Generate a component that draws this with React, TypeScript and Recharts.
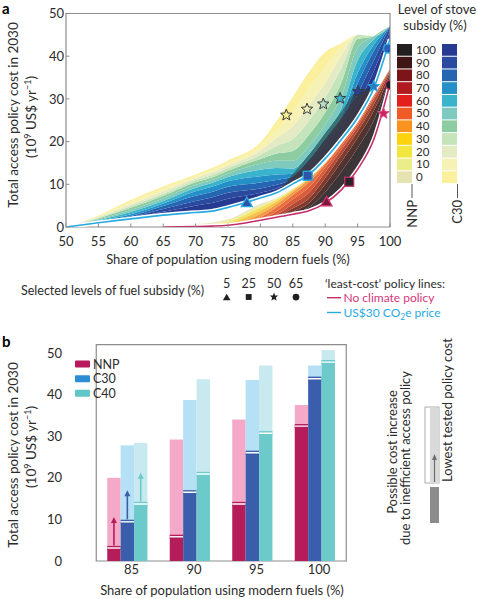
import React from "react";
import {
  ComposedChart, Area, Line, Scatter, XAxis, YAxis, ReferenceArea, BarChart, Bar,
} from "recharts";

const FONT = "Lato, 'Open Sans', sans-serif";
const INK = "#2b2b2b";
const FRAME = "#8c8c8c";
const BLUE_LINE = "#29abe2";
const PINK_LINE = "#c42e6a";

// ---- panel a: share of population (%) sampled along the fan
const shares = [50, 55, 60, 65, 70, 72.5, 75, 80, 82.5, 85, 87.5, 90, 92.5, 95, 97.5, 100];
const c30Line = [0, 1.0, 1.9, 2.8, 3.4, 3.7, 4.6, 6.8, 8.0, 10.1, 12.3, 16.0, 20.5, 25.6, 32.5, 44.0];
const nnpLine = [null, null, null, 0, 0.1, 0.2, 0.4, 1.6, 2.3, 3.0, 3.8, 5.6, 8.7, 13.5, 20.5, 33.5];

// C30 bands (thickness stacked above the C30 least-cost line), stove subsidy 100% .. 0%
const c30s100 = [0, 0.1, 0.2, 0.8, 1.6, 1.9, 2.0, 1.2, 1.0, 0.6, 0.8, 1.0, 1.2, 3.0, 4.0, 2.0];
const c30s90 = [0, 0.1, 0.2, 0.6, 1.1, 1.3, 1.4, 1.0, 0.9, 0.5, 0.8, 1.0, 1.2, 2.5, 2.5, 1.0];
const c30s80 = [0, 0.1, 0.3, 0.7, 1.2, 1.3, 1.4, 1.4, 1.1, 0.6, 0.9, 1.2, 1.4, 2.5, 2.2, 0];
const c30s70 = [0, 0.15, 0.4, 0.6, 1.1, 1.2, 1.3, 1.5, 1.3, 0.7, 1.0, 1.3, 1.5, 2.4, 1.5, 0];
const c30s60 = [0, 0.15, 0.5, 0.6, 0.8, 0.9, 1.0, 1.5, 1.5, 1.2, 1.3, 1.5, 2.0, 3.0, 1.2, 0];
const c30s50 = [0, 0.2, 0.5, 0.6, 0.7, 0.7, 0.8, 1.4, 1.7, 1.8, 1.9, 2.0, 2.8, 3.0, 0.8, 0];
const c30s40 = [0, 0.2, 0.5, 0.6, 0.6, 0.6, 0.7, 1.1, 1.7, 2.3, 2.6, 2.8, 3.2, 2.0, 0, 0];
const c30s30 = [0, 0.2, 0.4, 0.5, 0.5, 0.6, 0.6, 1.0, 1.8, 2.8, 3.3, 3.5, 3.4, 1.0, 0, 0];
const c30s20 = [0, 0.15, 0.4, 0.6, 0.5, 0.6, 0.6, 1.0, 1.9, 3.0, 3.6, 3.5, 3.0, 0, 0, 0];
const c30s10 = [0, 0.15, 0.5, 0.5, 0.4, 0.5, 0.6, 1.0, 1.9, 3.3, 3.9, 3.7, 2.0, 0, 0, 0];
const c30s0 = [0, 0.2, 0.5, 0.6, 0.4, 0.5, 0.6, 0.9, 2.0, 3.6, 3.9, 3.5, 0.8, 0, 0, 0];

// NNP bands (thickness stacked above the NNP least-cost line), 100% .. 0%
const nnps100 = [0, 0, 0, 0, 0, 0, 0, 0, 0, 0.2, 0.8, 2.6, 4.3, 5.0, 4.5, 1.5];
const nnps90 = [0, 0, 0, 0, 0, 0, 0, 0, 0, 0.4, 1.0, 1.8, 2.3, 2.4, 2.2, 0.8];
const nnps80 = [0, 0, 0, 0, 0, 0, 0, 0, 0.2, 0.8, 1.1, 1.5, 1.6, 1.5, 1.5, 0.5];
const nnps70 = [0, 0, 0, 0, 0, 0, 0, 0, 0.4, 1.0, 1.3, 1.3, 1.2, 1.1, 1.1, 0.4];
const nnps60 = [0, 0, 0, 0, 0, 0, 0, 0.2, 0.8, 1.1, 1.3, 1.1, 0.8, 0.6, 0.6, 0.3];
const nnps50 = [0, 0, 0, 0, 0, 0, 0, 0.5, 0.9, 1.0, 1.2, 0.8, 0.6, 0.4, 0.4, 0];
const nnps40 = [0, 0, 0, 0, 0, 0, 0.1, 0.8, 0.8, 0.7, 0.7, 0.3, 0, 0, 0, 0];
const nnps30 = [0, 0, 0, 0, 0, 0, 0.3, 0.8, 0.6, 0.4, 0.3, 0, 0, 0, 0, 0];
const nnps20 = [0, 0, 0, 0, 0, 0.2, 0.4, 0.7, 0.4, 0.2, 0, 0, 0, 0, 0, 0];
const nnps10 = [0, 0, 0, 0, 0.3, 0.3, 0.3, 0.4, 0.2, 0.1, 0, 0, 0, 0, 0, 0];
const nnps0 = [0, 0, 0, 0, 0.3, 0.3, 0.3, 0.4, 0.2, 0.1, 0, 0, 0, 0, 0, 0];

// high-subsidy NNP region that lies above the C30 line
const overlapDark = [0, 0, 0, 0, 0, 0, 0, 0, 0.2, 1.6, 3.4, 4.6, 5.0, 5.2, 0.3, 0];
const overlapEdge = [0, 0, 0, 0, 0, 0, 0, 0, 0.1, 0.7, 1.2, 1.4, 1.5, 1.2, 0, 0];

const stoveLevels = [100, 90, 80, 70, 60, 50, 40, 30, 20, 10, 0];
const c30Colors = ["#273a92", "#2a4a9f", "#2466b2", "#2590c8", "#3ab3cc", "#7fcabf", "#8dcca0", "#c5e4bb", "#e4eac3", "#f6f2b6", "#faf09d"];
const nnpFanColors = ["#3b3537", "#51332f", "#7f3a2e", "#b24a35", "#d95b3a", "#e96e40", "#f29a45", "#f6c24c", "#f5e25c", "#f0ee96", "#e8e6bb"];
const nnpKeyColors = ["#231f20", "#3f1515", "#7b1517", "#b01b20", "#e2211c", "#f05a24", "#f7931e", "#fdd20f", "#f2e640", "#ebee88", "#e6e3b2"];

// fuel-subsidy markers
const c30TriX = [77.9]; const c30TriY = [5.7];
const c30SqX = [87.3]; const c30SqY = [12.0];
const c30StarX = [84.0, 87.2, 89.7, 92.3, 95.1, 97.5];
const c30StarY = [26.2, 27.6, 28.8, 30.1, 31.7, 32.9];
const c30CircX = [99.7]; const c30CircY = [41.8];
const nnpTriX = [90.2]; const nnpTriY = [5.9];
const nnpSqX = [93.7]; const nnpSqY = [10.6];
const nnpStarX = [99.0]; const nnpStarY = [26.6];
const nnpCircX = [100]; const nnpCircY = [33.3];
const starFills = ["#f7ee8e", "#edf0b9", "#b5e0c9", "#3fb3c9", "#2a3f98", "#2a78c0"];

const xTicksA = [50, 55, 60, 65, 70, 75, 80, 85, 90, 95, 100];
const yTicksA = [0, 5, 10, 15, 20, 25, 30, 35, 40, 45, 50];

// ---- panel b
const cats = ["85", "90", "95", "100"];
const nnpLow = [3.0, 5.7, 13.6, 32.3];
const nnpHigh = [20.0, 29.2, 34.0, 37.5];
const c30Low = [9.3, 16.4, 25.9, 43.7];
const c30High = [27.8, 38.7, 43.5, 47.0];
const c40Low = [13.6, 20.8, 30.6, 47.7];
const c40High = [28.4, 43.7, 47.0, 50.7];
const nnpArrow = [10.6, null, null, null];
const c30Arrow = [17.0, null, null, null];
const c40Arrow = [21.2, null, null, null];
const yTicksB = [0, 5, 10, 15, 20, 25, 30, 35, 40, 45, 50];

const c30Bands = [c30s100, c30s90, c30s80, c30s70, c30s60, c30s50, c30s40, c30s30, c30s20, c30s10, c30s0];
const nnpBands = [nnps100, nnps90, nnps80, nnps70, nnps60, nnps50, nnps40, nnps30, nnps20, nnps10, nnps0];

const rowsA = shares.map((x, i) => {
  const row: any = {
    x,
    c30Base: c30Line[i],
    nnpBase: nnpLine[i] ?? 0,
    ovBase: c30Line[i],
    ovDark: overlapDark[i],
    ovEdge: overlapEdge[i],
    c30Line: c30Line[i],
    nnpLine: nnpLine[i],
  };
  stoveLevels.forEach((lv, k) => {
    row["c" + lv] = c30Bands[k][i];
    row["n" + lv] = nnpBands[k][i];
  });
  return row;
});

const pts = (xsArr: number[], ysArr: number[]) => xsArr.map((x, i) => ({ x, y: ysArr[i] }));
const c30StarRows = c30StarX.map((x, i) => ({ x, y: c30StarY[i], fill: starFills[i], edge: i === 5 ? BLUE_LINE : "#3a3a3a" }));

const rowsB = cats.map((cat, i) => ({
  cat,
  nnpLow: nnpLow[i], nnpExtra: nnpHigh[i] - nnpLow[i], nnpArrow: nnpArrow[i],
  c30Low: c30Low[i], c30Extra: c30High[i] - c30Low[i], c30Arrow: c30Arrow[i],
  c40Low: c40Low[i], c40Extra: c40High[i] - c40Low[i], c40Arrow: c40Arrow[i],
}));

function starPoints(cx: number, cy: number, R: number, r: number) {
  const p: string[] = [];
  for (let i = 0; i < 10; i++) {
    const a = -Math.PI / 2 + (i * Math.PI) / 5;
    const rad = i % 2 === 0 ? R : r;
    p.push(`${cx + rad * Math.cos(a)},${cy + rad * Math.sin(a)}`);
  }
  return p.join(" ");
}

function Mark({ kind, cx, cy, fill, stroke, s = 1 }: any) {
  if (cx == null || cy == null) return null;
  if (kind === "tri")
    return <polygon points={`${cx},${cy - 5.5 * s} ${cx - 5.5 * s},${cy + 4 * s} ${cx + 5.5 * s},${cy + 4 * s}`} fill={fill} stroke={stroke} strokeWidth={1.3} />;
  if (kind === "sq")
    return <rect x={cx - 4.5 * s} y={cy - 4.5 * s} width={9 * s} height={9 * s} fill={fill} stroke={stroke} strokeWidth={1.3} />;
  if (kind === "star")
    return <polygon points={starPoints(cx, cy, 6 * s, 2.6 * s)} fill={fill} stroke={stroke} strokeWidth={1} />;
  return <circle cx={cx} cy={cy} r={4.5 * s} fill={fill} stroke={stroke} strokeWidth={1.3} />;
}

function XTickA(props: any) {
  const { x, y, payload } = props;
  return (
    <g>
      <line x1={x} x2={x} y1={y - 9} y2={y - 12.5} stroke={FRAME} strokeWidth={1} />
      <text x={x} y={y} dy="0.75em" textAnchor="middle" fill={INK} fontSize={13} fontFamily={FONT}>{payload.value}</text>
    </g>
  );
}

function YTickA(props: any) {
  const { x, y, payload } = props;
  return (
    <g>
      <line x1={x + 2} x2={x + 5.5} y1={y} y2={y} stroke={FRAME} strokeWidth={1} />
      <text x={x} y={y} dy="0.36em" textAnchor="end" fill={INK} fontSize={13} fontFamily={FONT}>{payload.value}</text>
    </g>
  );
}

function upperShape(dark: string, light: string, arrowKey: string, lowKey: string, extraKey: string) {
  return (p: any) => {
    const { x, y, width, height, payload } = p;
    if (height == null || isNaN(height)) return null;
    const base = y + height;
    const unit = height / payload[extraKey];
    const tip = payload[arrowKey];
    const cx = x + width / 2;
    const tipY = tip != null ? base - (tip - payload[lowKey]) * unit : 0;
    return (
      <g>
        <rect x={x} y={y} width={width} height={height} fill={light} />
        {tip != null && (
          <g>
            <line x1={cx} x2={cx} y1={base - 3} y2={tipY + 5} stroke={dark} strokeWidth={1.6} />
            <polygon points={`${cx},${tipY} ${cx - 3},${tipY + 6} ${cx + 3},${tipY + 6}`} fill={dark} />
          </g>
        )}
        <rect x={x} y={base - 2.6} width={width} height={4.2} fill={dark} />
        <line x1={x} x2={x + width} y1={base - 0.5} y2={base - 0.5} stroke="#fff" strokeWidth={1.4} />
      </g>
    );
  };
}

const NNP_DARK = "#b51c5a", NNP_LIGHT = "#f4a9c8";
const C30_DARK = "#3a5eab", C30_LIGHT = "#b5e0f5";
const C40_DARK = "#6dcacb", C40_LIGHT = "#c8e9f0";

function PanelA() {
  return (
    <ComposedChart width={478} height={257} data={rowsA} margin={{ top: 13.5, right: 88, bottom: 0, left: 0 }}>
      <XAxis type="number" dataKey="x" domain={[50, 100]} ticks={xTicksA} allowDataOverflow height={30}
        axisLine={false} tickLine={false} tickSize={0} tickMargin={9} tick={<XTickA />} />
      <YAxis type="number" domain={[0, 50]} ticks={yTicksA} allowDataOverflow width={66}
        axisLine={false} tickLine={false} tickSize={0} tickMargin={2} tick={<YTickA />} />
      <Area type="monotone" dataKey="c30Base" stackId="c30" stroke="none" fill="none" isAnimationActive={false} dot={false} activeDot={false} />
      {stoveLevels.map((lv, k) => (
        <Area key={"c" + lv} type="monotone" dataKey={"c" + lv} stackId="c30" stroke="none" fill={c30Colors[k]} fillOpacity={1} isAnimationActive={false} dot={false} activeDot={false} />
      ))}
      <Area type="monotone" dataKey="nnpBase" stackId="nnp" stroke="none" fill="none" isAnimationActive={false} dot={false} activeDot={false} />
      {stoveLevels.map((lv, k) => (
        <Area key={"n" + lv} type="monotone" dataKey={"n" + lv} stackId="nnp" stroke="none" fill={nnpFanColors[k]} fillOpacity={1} isAnimationActive={false} dot={false} activeDot={false} />
      ))}
      <Area type="monotone" dataKey="ovBase" stackId="ov" stroke="none" fill="none" isAnimationActive={false} dot={false} activeDot={false} />
      <Area type="monotone" dataKey="ovDark" stackId="ov" stroke="none" fill="#3b3742" fillOpacity={0.92} isAnimationActive={false} dot={false} activeDot={false} />
      <Area type="monotone" dataKey="ovEdge" stackId="ov" stroke="none" fill="#2c3326" fillOpacity={0.5} isAnimationActive={false} dot={false} activeDot={false} />
      <Line type="monotone" dataKey="nnpLine" stroke="#fff" strokeWidth={4.5} dot={false} activeDot={false} isAnimationActive={false} />
      <Line type="monotone" dataKey="nnpLine" stroke={PINK_LINE} strokeWidth={1.6} dot={false} activeDot={false} isAnimationActive={false} />
      <Line type="monotone" dataKey="c30Line" stroke="#fff" strokeWidth={4.5} dot={false} activeDot={false} isAnimationActive={false} />
      <Line type="monotone" dataKey="c30Line" stroke={BLUE_LINE} strokeWidth={1.7} dot={false} activeDot={false} isAnimationActive={false} />
      <ReferenceArea y1={0} y2={50} fill="none" stroke={FRAME} strokeWidth={1.2} ifOverflow="visible" />
      <Scatter data={pts(c30TriX, c30TriY)} dataKey="y" isAnimationActive={false} shape={(p: any) => <Mark kind="tri" cx={p.cx} cy={p.cy} fill="#2a55a8" stroke={BLUE_LINE} />} />
      <Scatter data={pts(c30SqX, c30SqY)} dataKey="y" isAnimationActive={false} shape={(p: any) => <Mark kind="sq" cx={p.cx} cy={p.cy} fill="#2a55a8" stroke={BLUE_LINE} />} />
      <Scatter data={c30StarRows} dataKey="y" isAnimationActive={false} shape={(p: any) => <Mark kind="star" cx={p.cx} cy={p.cy} fill={p.payload.fill} stroke={p.payload.edge} />} />
      <Scatter data={pts(c30CircX, c30CircY)} dataKey="y" isAnimationActive={false} shape={(p: any) => <Mark kind="circ" cx={p.cx} cy={p.cy} fill="#2a5fb8" stroke={BLUE_LINE} />} />
      <Scatter data={pts(nnpTriX, nnpTriY)} dataKey="y" isAnimationActive={false} shape={(p: any) => <Mark kind="tri" cx={p.cx} cy={p.cy} fill="#7a1838" stroke="#d0306e" />} />
      <Scatter data={pts(nnpSqX, nnpSqY)} dataKey="y" isAnimationActive={false} shape={(p: any) => <Mark kind="sq" cx={p.cx} cy={p.cy} fill="#2a2526" stroke={PINK_LINE} />} />
      <Scatter data={pts(nnpStarX, nnpStarY)} dataKey="y" isAnimationActive={false} shape={(p: any) => <Mark kind="star" cx={p.cx} cy={p.cy} fill="#c8245e" stroke="#e05088" />} />
      <Scatter data={pts(nnpCircX, nnpCircY)} dataKey="y" isAnimationActive={false} shape={(p: any) => <Mark kind="circ" cx={p.cx} cy={p.cy} fill="#222" stroke={PINK_LINE} />} />
    </ComposedChart>
  );
}

function PanelB() {
  return (
    <BarChart width={478} height={261} data={rowsB} margin={{ top: 14.7, right: 101, bottom: 0, left: 0 }} barGap={0}>
      <XAxis dataKey="cat" padding={{ left: 32.25, right: 30.75 }} height={30} axisLine={false} tickLine={false}
        tickSize={0} tickMargin={4} tick={{ fill: INK, fontSize: 13, fontFamily: FONT, dx: 4 }} />
      <YAxis type="number" domain={[0, 52]} ticks={yTicksB} allowDataOverflow width={64} axisLine={false} tickLine={false}
        tickSize={0} tickMargin={2} tick={{ fill: INK, fontSize: 13, fontFamily: FONT }} />
      <Bar dataKey="nnpLow" stackId="n" fill={NNP_DARK} barSize={13.4} isAnimationActive={false} />
      <Bar dataKey="nnpExtra" stackId="n" barSize={13.4} isAnimationActive={false} shape={upperShape(NNP_DARK, NNP_LIGHT, "nnpArrow", "nnpLow", "nnpExtra")} />
      <Bar dataKey="c30Low" stackId="c" fill={C30_DARK} barSize={13.4} isAnimationActive={false} />
      <Bar dataKey="c30Extra" stackId="c" barSize={13.4} isAnimationActive={false} shape={upperShape(C30_DARK, C30_LIGHT, "c30Arrow", "c30Low", "c30Extra")} />
      <Bar dataKey="c40Low" stackId="d" fill={C40_DARK} barSize={13.4} isAnimationActive={false} />
      <Bar dataKey="c40Extra" stackId="d" barSize={13.4} isAnimationActive={false} shape={upperShape(C40_DARK, C40_LIGHT, "c40Arrow", "c40Low", "c40Extra")} />
      <ReferenceArea y1={0} y2={52} fill="none" stroke={FRAME} strokeWidth={1.2} ifOverflow="visible" />
    </BarChart>
  );
}

const T = (p: any) => <text fontFamily={FONT} fill={INK} fontSize={13} {...p} />;

function Overlay() {
  const sw = 12.73;
  return (
    <svg width={478} height={599} style={{ position: "absolute", left: 0, top: 0, pointerEvents: "none" }}>
      <T x={2} y={14} fontSize={15} fontWeight="bold" fill="#000">a</T>
      <T x={2} y={347} fontSize={15} fontWeight="bold" fill="#000">b</T>

      {/* panel a axis titles */}
      <T transform="translate(18,115) rotate(-90)" textAnchor="middle" fontSize={13.5}>Total access policy cost in 2030</T>
      <T transform="translate(36,117) rotate(-90)" textAnchor="middle" fontSize={13.5}>
        (10<tspan dy={-5} fontSize={9}>9</tspan><tspan dy={5}> US$ yr</tspan><tspan dy={-5} fontSize={9}>−1</tspan><tspan dy={5}>)</tspan>
      </T>
      <T x={228} y={263.5} textAnchor="middle" fontSize={13}>Share of population using modern fuels (%)</T>

      {/* stove subsidy legend */}
      <T x={437} y={14} textAnchor="middle" fontSize={13}>Level of stove</T>
      <T x={435} y={30} textAnchor="middle" fontSize={13}>subsidy (%)</T>
      {stoveLevels.map((lv, k) => (
        <g key={lv}>
          <rect x={397} y={44 + k * sw} width={15} height={sw - 1} fill={nnpKeyColors[k]} />
          <rect x={442} y={44 + k * sw} width={15} height={sw - 1} fill={c30Colors[k]} />
          <T x={416} y={44 + k * sw + 9.8} fontSize={11.5}>{lv}</T>
        </g>
      ))}
      <line x1={412} x2={412} y1={184} y2={198} stroke={INK} strokeWidth={0.8} />
      <line x1={457.5} x2={457.5} y1={184} y2={198} stroke={INK} strokeWidth={0.8} />
      <T transform="translate(416.5,200) rotate(-90)" textAnchor="end" fontSize={13}>NNP</T>
      <T transform="translate(462,200) rotate(-90)" textAnchor="end" fontSize={13}>C30</T>

      {/* fuel subsidy marker legend */}
      <T x={21} y={294.5} fontSize={12.5}>Selected levels of fuel subsidy (%)</T>
      <T x={226.7} y={287.5} textAnchor="middle" fontSize={12.5}>5</T>
      <T x={248.7} y={287.5} textAnchor="middle" fontSize={12.5}>25</T>
      <T x={274} y={287.5} textAnchor="middle" fontSize={12.5}>50</T>
      <T x={296} y={287.5} textAnchor="middle" fontSize={12.5}>65</T>
      <Mark kind="tri" cx={226.7} cy={297.5} fill="#231f20" stroke="none" s={0.7} />
      <Mark kind="sq" cx={248.7} cy={297} fill="#231f20" stroke="none" s={0.65} />
      <Mark kind="star" cx={274} cy={297} fill="#231f20" stroke="none" s={0.75} />
      <Mark kind="circ" cx={296} cy={297} fill="#231f20" stroke="none" s={0.75} />

      <T x={325} y={287.5} fontSize={12}>‘least-cost’ policy lines:</T>
      <line x1={327} x2={341} y1={297.7} y2={297.7} stroke={PINK_LINE} strokeWidth={1.4} />
      <T x={343.5} y={302} fontSize={12} fill="#d4357a">No climate policy</T>
      <line x1={327} x2={341} y1={312.5} y2={312.5} stroke={BLUE_LINE} strokeWidth={1.4} />
      <T x={343.5} y={316.5} fontSize={12} fill={BLUE_LINE}>
        US$30 CO<tspan dy={3} fontSize={8.5}>2</tspan><tspan dy={-3}>e price</tspan>
      </T>

      {/* panel b axis titles */}
      <T transform="translate(18,455) rotate(-90)" textAnchor="middle" fontSize={13.5}>Total access policy cost in 2030</T>
      <T transform="translate(36,447) rotate(-90)" textAnchor="middle" fontSize={13.5}>
        (10<tspan dy={-5} fontSize={9}>9</tspan><tspan dy={5}> US$ yr</tspan><tspan dy={-5} fontSize={9}>−1</tspan><tspan dy={5}>)</tspan>
      </T>
      <T x={222} y={594.5} textAnchor="middle" fontSize={13}>Share of population using modern fuels (%)</T>

      {/* panel b series legend */}
      <rect x={75} y={360.5} width={15} height={7} rx={1} fill="#b8185c" />
      <rect x={75} y={375.2} width={15} height={7} rx={1} fill="#2b8dd3" />
      <rect x={75} y={389.8} width={15} height={7} rx={1} fill="#5fc6c5" />
      <T x={93} y={368.5} fontSize={12.5}>NNP</T>
      <T x={93} y={383.2} fontSize={12.5}>C30</T>
      <T x={93} y={397.8} fontSize={12.5}>C40</T>

      {/* panel b key for bar parts */}
      <T transform="translate(397,452) rotate(-90)" textAnchor="middle" fontSize={13}>Possible cost increase</T>
      <T transform="translate(410,458) rotate(-90)" textAnchor="middle" fontSize={13}>due to inefficient access policy</T>
      <rect x={425} y={407} width={14} height={76} fill="#fff" stroke="#9a9a9a" strokeWidth={0.8} />
      <rect x={430} y={408} width={9} height={75} fill="#dadada" />
      <line x1={434.5} x2={434.5} y1={482} y2={459} stroke="#6d6d6d" strokeWidth={1.2} />
      <polygon points="434.5,454 432,460 437,460" fill="#6d6d6d" />
      <rect x={430} y={487} width={9} height={36} fill="#8c8c8c" />
      <T transform="translate(452,482) rotate(-90)" textAnchor="start" fontSize={13}>Lowest tested policy cost</T>
    </svg>
  );
}

export default function App() {
  return (
    <div style={{ position: "absolute", left: 0, top: 0, width: 478, height: 599, background: "#fff", fontFamily: FONT }}>
      <div style={{ position: "absolute", left: 0, top: 0 }}>
        <PanelA />
      </div>
      <div style={{ position: "absolute", left: 0, top: 330 }}>
        <PanelB />
      </div>
      <Overlay />
    </div>
  );
}
